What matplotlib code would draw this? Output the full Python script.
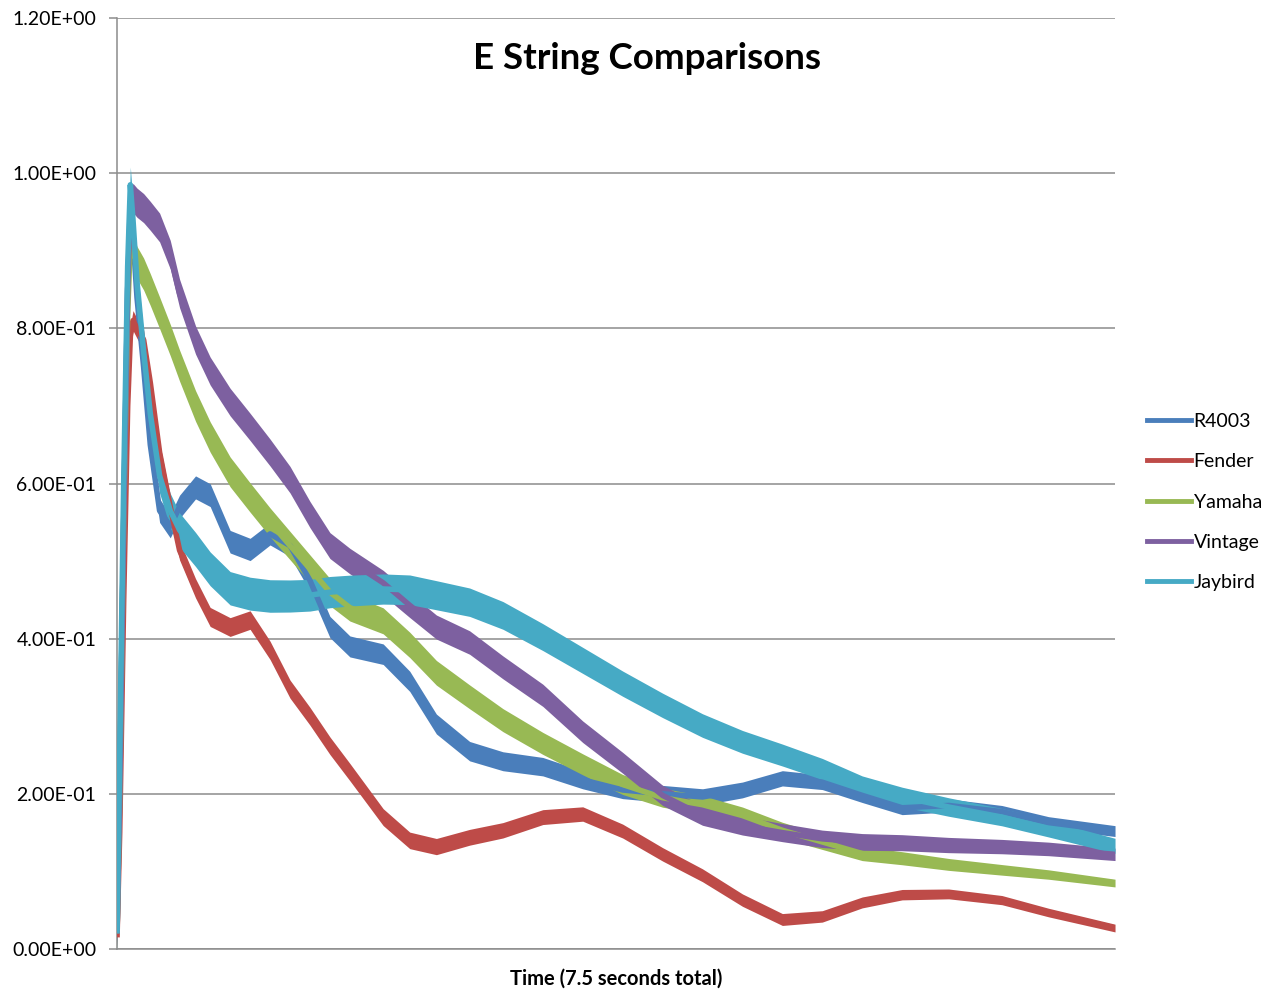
import matplotlib
matplotlib.use("Agg")
import matplotlib.pyplot as plt
import numpy as np
from matplotlib.lines import Line2D
from matplotlib.ticker import FuncFormatter

# time grid (seconds)
time_s = [0.0, 0.02, 0.05, 0.08, 0.10, 0.12, 0.15, 0.20, 0.25, 0.32, 0.40, 0.47,
          0.59, 0.70, 0.85, 1.0, 1.15, 1.3, 1.45, 1.6, 1.75, 2.0, 2.2, 2.4, 2.65,
          2.9, 3.2, 3.5, 3.8, 4.1, 4.4, 4.7, 5.0, 5.3, 5.6, 5.9, 6.25, 6.65, 7.0, 7.5]

r4003 = [0.02, 0.20, 0.55, 0.85, 0.95, 0.92, 0.84, 0.75, 0.65, 0.565, 0.545, 0.57,
         0.595, 0.585, 0.525, 0.515, 0.535, 0.52, 0.475, 0.415, 0.39, 0.38, 0.345,
         0.29, 0.255, 0.242, 0.235, 0.218, 0.205, 0.20, 0.196, 0.205, 0.22, 0.215,
         0.198, 0.182, 0.185, 0.177, 0.163, 0.152]

fender = [0.015, 0.15, 0.45, 0.70, 0.79, 0.81, 0.80, 0.785, 0.73, 0.64, 0.57, 0.514,
          0.465, 0.428, 0.415, 0.424, 0.385, 0.335, 0.30, 0.262, 0.228, 0.17, 0.14,
          0.132, 0.144, 0.153, 0.17, 0.174, 0.152, 0.122, 0.095, 0.063, 0.038, 0.042,
          0.06, 0.07, 0.071, 0.063, 0.047, 0.027]

yamaha = [0.02, 0.20, 0.55, 0.82, 0.91, 0.90, 0.885, 0.87, 0.85, 0.82, 0.785, 0.752,
          0.70, 0.66, 0.615, 0.582, 0.55, 0.52, 0.49, 0.46, 0.44, 0.423, 0.392,
          0.356, 0.325, 0.295, 0.265, 0.238, 0.212, 0.195, 0.186, 0.172, 0.153,
          0.138, 0.123, 0.117, 0.109, 0.102, 0.096, 0.085]

vintage = [0.02, 0.20, 0.55, 0.85, 0.96, 0.968, 0.962, 0.955, 0.945, 0.93, 0.895, 0.845,
           0.785, 0.745, 0.705, 0.673, 0.64, 0.605, 0.56, 0.52, 0.50, 0.472, 0.443,
           0.415, 0.395, 0.363, 0.327, 0.28, 0.24, 0.198, 0.172, 0.159, 0.15, 0.142,
           0.138, 0.137, 0.134, 0.132, 0.129, 0.122]

jaybird = [0.02, 0.25, 0.60, 0.88, 0.985, 0.94, 0.86, 0.77, 0.69, 0.61, 0.565, 0.54,
           0.515, 0.49, 0.465, 0.458, 0.455, 0.455, 0.456, 0.46, 0.462, 0.464, 0.463,
           0.456, 0.447, 0.43, 0.402, 0.372, 0.342, 0.314, 0.288, 0.267, 0.25, 0.232,
           0.21, 0.196, 0.183, 0.17, 0.155, 0.133]

series_names = ["R4003", "Fender", "Yamaha", "Vintage", "Jaybird"]
series_values = [r4003, fender, yamaha, vintage, jaybird]
series_colors = ["#4a7ebb", "#be4b48", "#98b954", "#7d60a0", "#46aac5"]
# vertical half-thickness of the oscillation band at start / end (style)
band_start = [0.0155, 0.013, 0.021, 0.019, 0.023]
band_end = [0.007, 0.005, 0.005, 0.008, 0.0097]

y_ticks = [0.0, 0.2, 0.4, 0.6, 0.8, 1.0, 1.2]

plt.rcParams['font.family'] = ['Lato', 'DejaVu Sans']

fig = plt.figure(figsize=(12.79, 10.02), dpi=100)
ax = fig.add_axes([0.0915, 0.0529, 0.7803, 0.9291])

t = np.asarray(time_s)
for name, vals, col, a0, a1 in zip(series_names, series_values, series_colors,
                                   band_start, band_end):
    y = np.asarray(vals)
    half = a0 + (a1 - a0) * t / t[-1]
    ax.fill_between(t, y - half, y + half, color=col, lw=0)
    ax.plot(t, y, color=col, lw=4, solid_joinstyle='round',
            solid_capstyle='butt')

ax.set_xlim(0, 7.5)
ax.set_ylim(0, 1.2)
ax.set_yticks(y_ticks)
ax.yaxis.set_major_formatter(FuncFormatter(lambda v, p: f"{v:.2E}"))
ax.set_xticks([])
ax.grid(axis='y', color='#8c8c8c', lw=1.1)
ax.set_axisbelow(True)
for s in ['top', 'right']:
    ax.spines[s].set_visible(False)
for s in ['left', 'bottom']:
    ax.spines[s].set_color('#8c8c8c')
    ax.spines[s].set_linewidth(1.1)
    ax.spines[s].set_zorder(0.5)
ax.tick_params(axis='y', length=6, width=1.1, color='#8c8c8c', labelsize=14,
               pad=9)

ax.set_xlabel("Time (7.5 seconds total)", fontsize=14.5, fontweight='bold',
              labelpad=14)
ax.text(0.531, 0.956, "E String Comparisons", transform=ax.transAxes,
        ha='center', va='center', fontsize=26.5, fontweight='bold')

handles = [Line2D([], [], color=c, lw=3.5) for c in series_colors]
fig.legend(handles, series_names, loc='center left',
           bbox_to_anchor=(0.8835, 0.499), frameon=False, fontsize=14,
           handlelength=2.25, handletextpad=0.12, labelspacing=1.2)

fig.savefig("out.png", dpi=100)
